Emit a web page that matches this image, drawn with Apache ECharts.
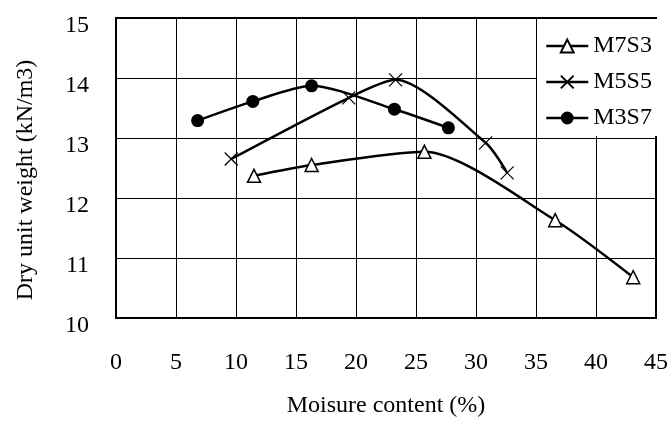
<!DOCTYPE html>
<html>
<head>
<meta charset="utf-8">
<script src="https://cdn.jsdelivr.net/npm/echarts@6/dist/echarts.min.js"></script>
<style>
  html, body { margin: 0; padding: 0; background: #fff; }
  #chart { width: 671px; height: 423px; }
</style>
</head>
<body>
<div id="chart"></div>
<script>
// Compaction curves: moisture content (%) vs dry unit weight (kN/m3)
const m7s3Moisture = [11.5, 16.3, 25.7, 36.6, 43.1];
const m7s3Weight   = [12.37, 12.55, 12.77, 11.63, 10.68];

const m5s5Moisture = [9.6, 19.4, 23.3, 30.8, 32.6];
const m5s5Weight   = [12.65, 13.67, 13.97, 12.92, 12.42];

const m3s7Moisture = [6.8, 11.4, 16.3, 23.2, 27.7];
const m3s7Weight   = [13.29, 13.61, 13.87, 13.48, 13.17];

const seriesNames = ['M7S3', 'M5S5', 'M3S7'];
const xTicks = { min: 0, max: 45, step: 5 };
const yTicks = { min: 10, max: 15, step: 1 };

const FONT = 'Liberation Serif';
const pairs = (xs, ys) => xs.map((x, i) => [x, ys[i]]);
const CROSS = 'path://M0,0L10,10M10,0L0,10';

const lineBase = {
  type: 'line',
  smooth: 0.25,
  symbolSize: 13,
  lineStyle: { color: '#000', width: 2.5 },
  emphasis: { disabled: true },
  animation: false
};

const chart = echarts.init(document.getElementById('chart'), null, { renderer: 'canvas' });

chart.setOption({
  backgroundColor: '#fff',
  animation: false,
  textStyle: { fontFamily: FONT, color: '#000' },
  grid: {
    left: 116, right: 10, top: 18, bottom: 102,
    show: true, borderColor: '#000', borderWidth: 2,
    backgroundColor: 'transparent'
  },
  legend: {
    orient: 'vertical',
    left: 537, top: 19,
    padding: [15, 10, 6, 8],
    backgroundColor: '#fff',
    itemWidth: 42, itemHeight: 16, itemGap: 12,
    lineStyle: { width: 2.5, color: '#000' },
    textStyle: { fontFamily: FONT, fontSize: 24, color: '#000' },
    data: seriesNames
  },
  xAxis: {
    type: 'value',
    min: xTicks.min, max: xTicks.max, interval: xTicks.step,
    name: 'Moisure content (%)',
    nameLocation: 'middle', nameGap: 76,
    nameTextStyle: { fontFamily: FONT, fontSize: 24, color: '#000' },
    axisLine: { show: false },
    axisTick: { show: false },
    axisLabel: { fontFamily: FONT, fontSize: 24, color: '#000', margin: 33 },
    splitLine: { show: true, lineStyle: { color: '#000', width: 1 } }
  },
  yAxis: {
    type: 'value',
    min: yTicks.min, max: yTicks.max, interval: yTicks.step,
    name: 'Dry unit weight (kN/m3)',
    nameLocation: 'middle', nameGap: 78,
    nameTextStyle: { fontFamily: FONT, fontSize: 24, color: '#000', padding: [0, 24, 0, 0] },
    axisLine: { show: false },
    axisTick: { show: false },
    axisLabel: {
      fontFamily: FONT, fontSize: 24, color: '#000', margin: 27,
      verticalAlign: 'top', lineHeight: 16
    },
    splitLine: { show: true, lineStyle: { color: '#000', width: 1 } }
  },
  series: [
    Object.assign({}, lineBase, {
      name: seriesNames[0],
      data: pairs(m7s3Moisture, m7s3Weight),
      symbol: 'triangle',
      itemStyle: { color: '#fff', borderColor: '#000', borderWidth: 1.5 }
    }),
    Object.assign({}, lineBase, {
      name: seriesNames[1],
      data: pairs(m5s5Moisture, m5s5Weight),
      symbol: CROSS,
      symbolSize: 13,
      itemStyle: { color: '#000', borderColor: '#000', borderWidth: 1.2 }
    }),
    Object.assign({}, lineBase, {
      name: seriesNames[2],
      data: pairs(m3s7Moisture, m3s7Weight),
      symbol: 'circle',
      itemStyle: { color: '#000', borderColor: '#000', borderWidth: 0 }
    })
  ]
});
</script>
</body>
</html>
